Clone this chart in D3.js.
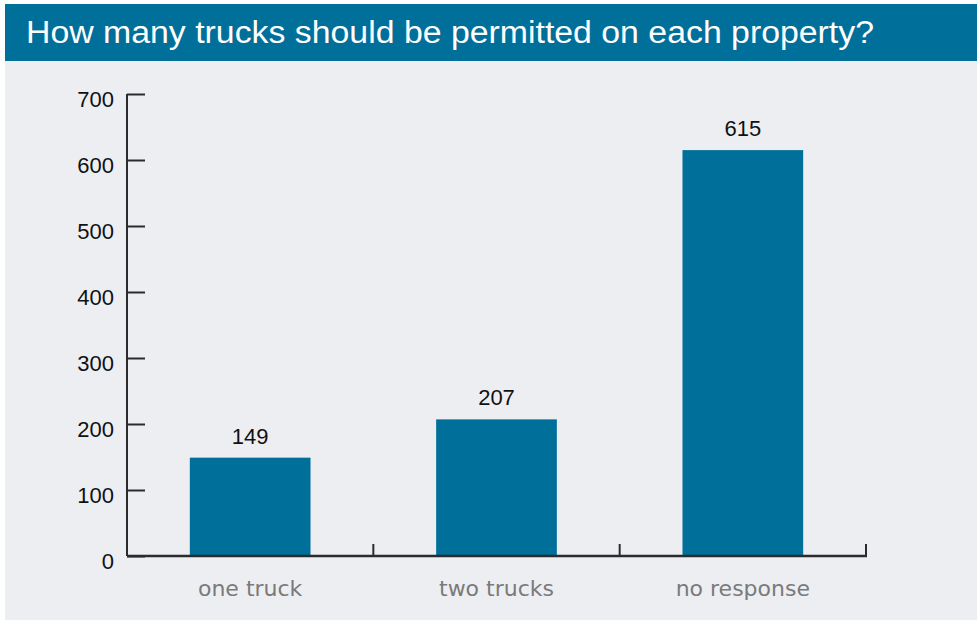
<!DOCTYPE html>
<html>
<head>
<meta charset="utf-8">
<script src="https://cdn.jsdelivr.net/npm/d3@7/dist/d3.min.js"></script>
<style>
  html, body { margin: 0; padding: 0; background: #ffffff; }
  svg { display: block; }
</style>
</head>
<body>
<script>
// Survey responses: number of trucks allowed per property
const categories = ["one truck", "two trucks", "no response"];
const counts = [149, 207, 615];
const yTicks = [0, 100, 200, 300, 400, 500, 600, 700];
const title = "How many trucks should be permitted on each property?";

const W = 977, H = 621;
const teal = "#00709a";
const axisColor = "#2b2b2b";

const svg = d3.select("body").append("svg")
  .attr("width", W).attr("height", H);

// Panel background and title band
svg.append("rect").attr("x", 5).attr("y", 61).attr("width", W - 5).attr("height", 559)
  .attr("fill", "#edeef2");
svg.append("rect").attr("x", 5).attr("y", 4).attr("width", W - 5).attr("height", 57)
  .attr("fill", teal);
svg.append("text")
  .attr("x", 26).attr("y", 43)
  .attr("font-family", "'Liberation Sans', Arial, sans-serif")
  .attr("font-size", 31)
  .attr("fill", "#ffffff")
  .attr("textLength", 848)
  .attr("lengthAdjust", "spacingAndGlyphs")
  .text(title);

// Scales
const x = d3.scaleBand().domain(categories).range([127, 866])
  .paddingInner(0.51).paddingOuter(0.255);
const y = d3.scaleLinear().domain([0, 700]).range([556, 94]);

const g = svg.append("g");

// Bars
g.selectAll("rect.bar").data(categories).enter().append("rect")
  .attr("class", "bar")
  .attr("x", d => x(d))
  .attr("width", x.bandwidth())
  .attr("y", (d, i) => y(counts[i]))
  .attr("height", (d, i) => y(0) - y(counts[i]))
  .attr("fill", teal);

// Value labels
g.selectAll("text.val").data(categories).enter().append("text")
  .attr("class", "val")
  .attr("x", d => x(d) + x.bandwidth() / 2)
  .attr("y", (d, i) => y(counts[i]) - 14)
  .attr("text-anchor", "middle")
  .attr("font-family", "'Liberation Sans', Arial, sans-serif")
  .attr("font-size", 22)
  .attr("fill", "#111111")
  .text((d, i) => counts[i]);

// Y axis: ticks pointing right, labels on the left
const yAxis = d3.axisRight(y).tickValues(yTicks).tickSize(18).tickFormat("");
const yg = svg.append("g").attr("transform", "translate(127,0)").call(yAxis);
yg.select(".domain").attr("d", `M0,${y(700)}V${y(0)}`);
yg.selectAll("line, path").attr("stroke", axisColor).attr("stroke-width", 2);

svg.append("g").selectAll("text").data(yTicks).enter().append("text")
  .attr("x", 114)
  .attr("y", d => y(d) + 13)
  .attr("text-anchor", "end")
  .attr("font-family", "'Liberation Sans', Arial, sans-serif")
  .attr("font-size", 22)
  .attr("fill", "#111111")
  .text(d => d);

// X axis: baseline with upward ticks at category boundaries
const [r0, r1] = x.range();
const boundaries = d3.range(1, categories.length + 1).map(i => r0 + i * x.step());
const xg = svg.append("g");
xg.append("line")
  .attr("x1", r0).attr("x2", r1 + 1)
  .attr("y1", y(0)).attr("y2", y(0))
  .attr("stroke", axisColor).attr("stroke-width", 2.5);
xg.selectAll("line.tick").data(boundaries).enter().append("line")
  .attr("class", "tick")
  .attr("x1", d => d).attr("x2", d => d)
  .attr("y1", y(0)).attr("y2", y(0) - 12)
  .attr("stroke", axisColor).attr("stroke-width", 2);

xg.selectAll("text").data(categories).enter().append("text")
  .attr("x", d => x(d) + x.bandwidth() / 2)
  .attr("y", 596)
  .attr("text-anchor", "middle")
  .attr("font-family", "'DejaVu Sans', sans-serif")
  .attr("font-size", 22)
  .attr("fill", "#7a7a7a")
  .text(d => d);
</script>
</body>
</html>
